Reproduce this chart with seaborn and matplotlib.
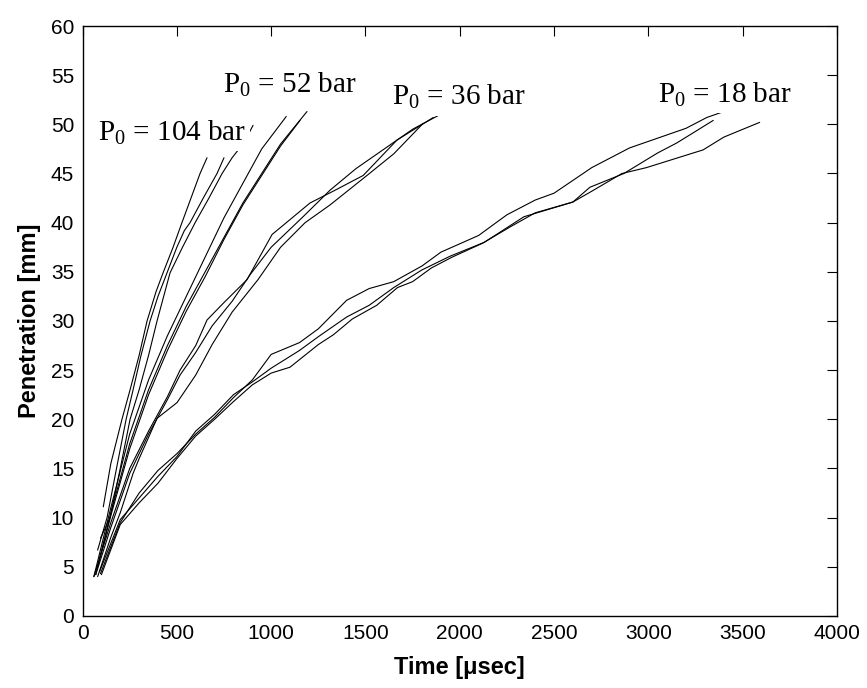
import pandas as pd
import matplotlib
matplotlib.use("Agg")
import matplotlib.pyplot as plt
import seaborn as sns

# penetration curves, time in usec, penetration in mm
t_104a = [110, 150, 209, 252, 300, 342, 390, 427, 480, 527, 575, 623, 660]
y_104a = [11.1, 15.5, 20.0, 23.0, 26.5, 30.0, 33.0, 34.9, 37.5, 40.0, 42.5, 45.0, 46.6]
t_104b = [80, 130, 180, 231, 268, 310, 358, 400, 448, 500, 540, 570, 640, 713, 750]
y_104b = [6.7, 10.0, 15.0, 20.0, 23.0, 26.5, 30.0, 32.5, 34.9, 37.5, 39.2, 40.0, 42.5, 45.0, 46.6]
t_104c = [95, 146, 200, 252, 300, 350, 395, 464, 530, 597, 670, 740, 793, 850, 877, 904]
y_104c = [7.9, 10.0, 15.0, 20.0, 23.0, 26.5, 30.0, 34.9, 37.5, 40.0, 42.5, 45.0, 46.6, 48.0, 48.9, 49.9]

t_52a = [60, 150, 250, 350, 450, 550, 650, 750, 850, 950, 1080]
y_52a = [4.0, 11.0, 18.5, 24.0, 28.5, 32.5, 36.5, 40.5, 44.0, 47.5, 50.8]
t_52b = [70, 150, 250, 350, 450, 550, 650, 750, 850, 950, 1050, 1190]
y_52b = [4.2, 10.5, 17.5, 23.0, 27.5, 31.5, 35.0, 38.5, 42.0, 45.0, 48.0, 51.3]
t_52c = [80, 150, 250, 350, 450, 550, 650, 750, 850, 950, 1050, 1153]
y_52c = [5.0, 10.2, 17.0, 22.5, 27.0, 31.0, 34.5, 38.3, 41.8, 44.8, 47.8, 50.4]

t_36a = [60, 150, 250, 350, 450, 517, 600, 660, 746, 872, 1005, 1206, 1339, 1488, 1667, 1860]
y_36a = [4.0, 9.5, 15.0, 18.8, 22.3, 25.0, 27.5, 30.1, 31.8, 34.2, 38.8, 42.0, 43.3, 44.8, 48.4, 50.7]
t_36b = [70, 150, 250, 350, 450, 517, 600, 687, 793, 888, 1000, 1169, 1312, 1450, 1600, 1750, 1896]
y_36b = [4.2, 9.0, 14.5, 18.5, 22.0, 24.5, 26.8, 29.5, 32.0, 34.7, 37.5, 40.6, 43.3, 45.5, 47.5, 49.5, 51.0]
t_36c = [80, 150, 200, 268, 300, 395, 501, 600, 687, 793, 930, 1050, 1180, 1312, 1508, 1650, 1806]
y_36c = [4.0, 8.0, 10.5, 14.5, 16.0, 20.1, 21.7, 24.5, 27.6, 30.9, 34.2, 37.5, 40.0, 41.8, 44.8, 47.0, 50.1]

t_18a = [95, 200, 300, 400, 500, 600, 700, 800, 900, 1000, 1150, 1250, 1400, 1520, 1650, 1800,
         1900, 2100, 2250, 2400, 2500, 2700, 2900, 3200, 3310, 3400]
y_18a = [4.3, 9.5, 12.5, 14.8, 16.5, 18.5, 20.2, 22.2, 24.0, 26.6, 27.8, 29.2, 32.1, 33.3, 34.0, 35.6,
         37.0, 38.7, 40.8, 42.3, 43.0, 45.6, 47.6, 49.6, 50.7, 51.3]
t_18b = [100, 200, 300, 400, 500, 600, 700, 800, 900, 1000, 1100, 1250, 1330, 1430, 1560, 1670, 1750,
         1850, 1960, 2120, 2270, 2400, 2600, 2700, 2860, 2990, 3290, 3400, 3590]
y_18b = [4.2, 9.3, 11.5, 13.5, 16.0, 18.3, 20.0, 21.8, 23.5, 24.7, 25.3, 27.6, 28.6, 30.2, 31.6, 33.4, 34.0,
         35.4, 36.5, 37.9, 39.6, 41.0, 42.1, 43.2, 45.0, 45.6, 47.4, 48.7, 50.2]
t_18c = [90, 200, 300, 400, 500, 600, 700, 800, 900, 1000, 1150, 1250, 1400, 1520, 1650, 1800, 1950,
         2130, 2340, 2600, 2690, 2870, 3050, 3150, 3344]
y_18c = [4.5, 9.8, 12.0, 14.2, 16.2, 18.8, 20.5, 22.5, 23.8, 25.2, 27.0, 28.4, 30.4, 31.6, 33.4, 35.2, 36.6,
         38.0, 40.6, 42.1, 43.6, 45.0, 47.1, 48.1, 50.4]

runs = {
    "104a": (t_104a, y_104a), "104b": (t_104b, y_104b), "104c": (t_104c, y_104c),
    "52a": (t_52a, y_52a), "52b": (t_52b, y_52b), "52c": (t_52c, y_52c),
    "36a": (t_36a, y_36a), "36b": (t_36b, y_36b), "36c": (t_36c, y_36c),
    "18a": (t_18a, y_18a), "18b": (t_18b, y_18b), "18c": (t_18c, y_18c),
}

label_text = [r"P$_0$ = 104 bar", r"P$_0$ = 52 bar", r"P$_0$ = 36 bar", r"P$_0$ = 18 bar"]
label_x = [82, 745, 1641, 3051]
label_y = [48.4, 53.3, 52.0, 52.3]

x_ticks = [0, 500, 1000, 1500, 2000, 2500, 3000, 3500, 4000]
y_ticks = list(range(0, 61, 5))

df = pd.concat(
    [pd.DataFrame({"run": k, "t": v[0], "pen": v[1]}) for k, v in runs.items()],
    ignore_index=True,
)

sns.set_style("white")
plt.rcParams["font.family"] = ["Liberation Sans", "DejaVu Sans"]
plt.rcParams["mathtext.fontset"] = "custom"
plt.rcParams["mathtext.rm"] = "Liberation Serif"
plt.rcParams["text.color"] = "black"
plt.rcParams["axes.labelcolor"] = "black"

fig = plt.figure(figsize=(8.67, 6.88), dpi=100)
ax = fig.add_axes([0.0952, 0.1047, 0.8702, 0.8575])

sns.lineplot(data=df, x="t", y="pen", units="run", estimator=None, sort=False,
             color="black", linewidth=0.8, ax=ax, zorder=2)

# labels sit on white boxes that cover the ends of the curves
for s, x, y in zip(label_text, label_x, label_y):
    ax.text(x, y, s, fontsize=21, family="Liberation Serif", ha="left", va="baseline",
            color="black", zorder=4, bbox=dict(facecolor="white", edgecolor="none", pad=3))

ax.set_xlim(0, 4000)
ax.set_ylim(0, 60)
ax.set_xticks(x_ticks)
ax.set_yticks(y_ticks)
ax.tick_params(direction="in", length=7, width=0.8, top=True, right=True,
               labelsize=15, pad=6, colors="black")
for sp in ax.spines.values():
    sp.set_color("black")
    sp.set_linewidth(1.0)

ax.set_xlabel("Time [\u03bcsec]", fontsize=17, fontweight="bold", labelpad=9)
ax.set_ylabel("Penetration [mm]", fontsize=17, fontweight="bold", labelpad=7)

fig.savefig("out.png", dpi=100)
